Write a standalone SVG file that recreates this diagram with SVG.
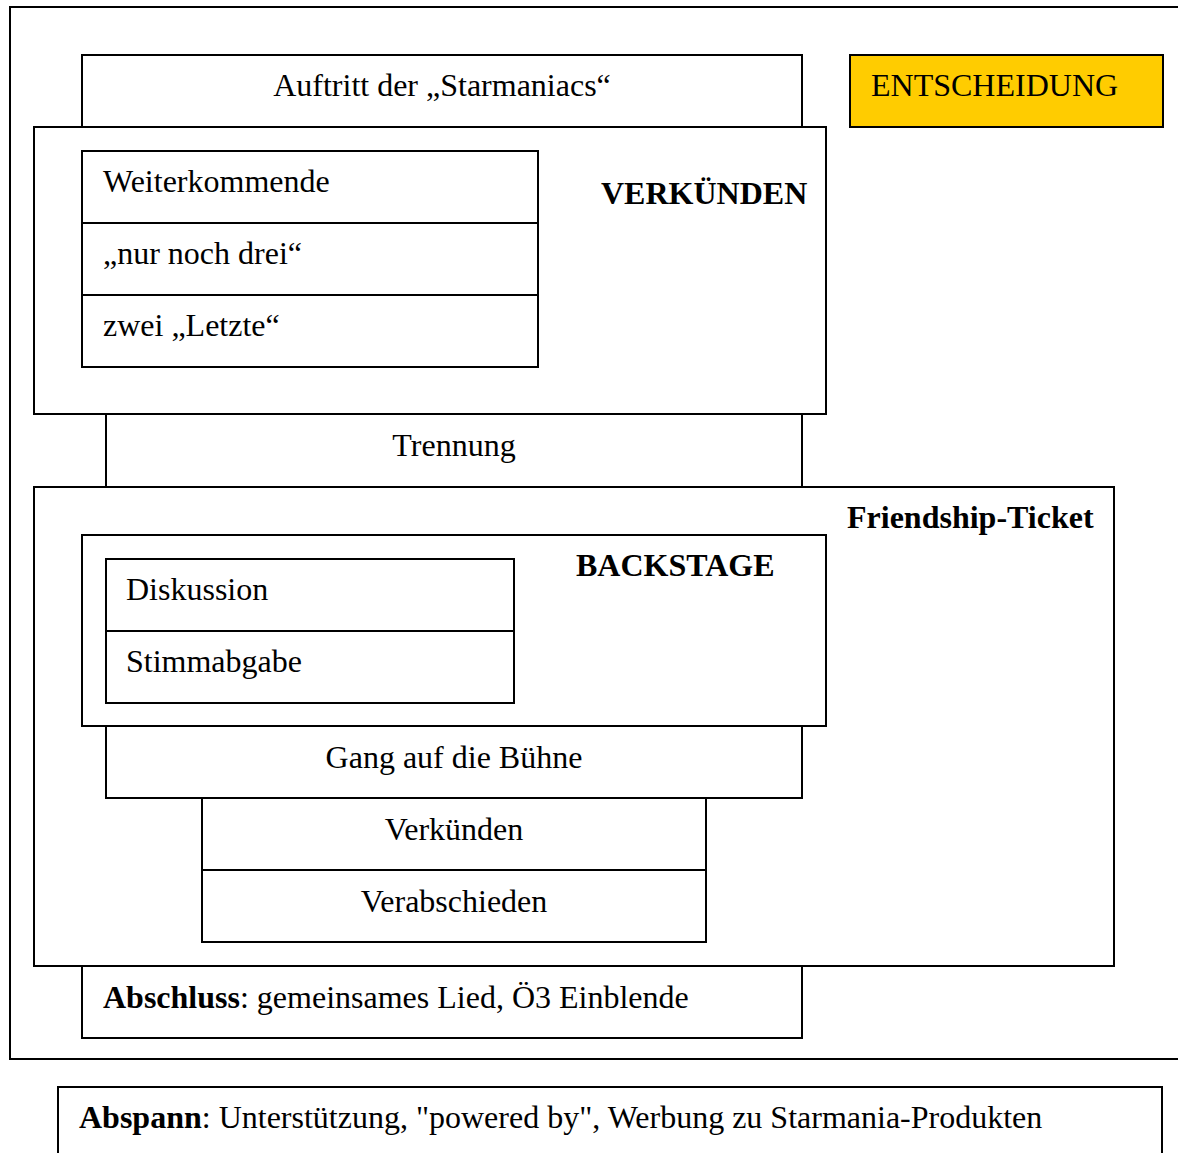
<svg xmlns="http://www.w3.org/2000/svg" width="1178" height="1153" viewBox="0 0 1178 1153">
<style>
rect{fill:none;stroke:#000;stroke-width:2}
text{font-family:"Liberation Serif","Times New Roman",serif;font-size:32px;fill:#000}
.b{font-weight:bold}
.c{text-anchor:middle}
.y{fill:#FFCC00}
</style>
<rect width="1178" height="1153" style="fill:#fff;stroke:none"/>
<g id="frame"><rect x="10" y="7" width="1180" height="1052"/></g>
<g id="auftritt"><rect x="82" y="55" width="720" height="72"/><text x="442" y="96" class="c">Auftritt der „Starmaniacs“</text></g>
<g id="entscheidung"><rect x="850" y="55" width="313" height="72" class="y"/><text x="871" y="96">ENTSCHEIDUNG</text></g>
<g id="verkuenden-group"><rect x="34" y="127" width="792" height="287"/><text x="601" y="204" class="b">VERKÜNDEN</text></g>
<g id="weiterkommende"><rect x="82" y="151" width="456" height="72"/><text x="103" y="192">Weiterkommende</text></g>
<g id="nurnochdrei"><rect x="82" y="223" width="456" height="72"/><text x="103" y="264">„nur noch drei“</text></g>
<g id="zweiletzte"><rect x="82" y="295" width="456" height="72"/><text x="103" y="336">zwei „Letzte“</text></g>
<g id="trennung"><rect x="106" y="414" width="696" height="73"/><text x="454" y="456" class="c">Trennung</text></g>
<g id="friendship"><rect x="34" y="487" width="1080" height="479"/><text x="847" y="528" class="b">Friendship-Ticket</text></g>
<g id="backstage"><rect x="82" y="535" width="744" height="191"/><text x="576" y="576" class="b">BACKSTAGE</text></g>
<g id="diskussion"><rect x="106" y="559" width="408" height="72"/><text x="126" y="600">Diskussion</text></g>
<g id="stimmabgabe"><rect x="106" y="631" width="408" height="72"/><text x="126" y="672">Stimmabgabe</text></g>
<g id="gang"><rect x="106" y="726" width="696" height="72"/><text x="454" y="768" class="c">Gang auf die Bühne</text></g>
<g id="verkuenden"><rect x="202" y="798" width="504" height="72"/><text x="454" y="840" class="c">Verkünden</text></g>
<g id="verabschieden"><rect x="202" y="870" width="504" height="72"/><text x="454" y="912" class="c">Verabschieden</text></g>
<g id="abschluss"><rect x="82" y="966" width="720" height="72"/><text x="103" y="1008"><tspan class="b">Abschluss</tspan>: gemeinsames Lied, Ö3 Einblende</text></g>
<g id="abspann"><rect x="58" y="1087" width="1104" height="80"/><text x="79" y="1128"><tspan class="b">Abspann</tspan>: Unterstützung, "powered by", Werbung zu Starmania-Produkten</text></g>
<g id="connectors"></g>
</svg>
